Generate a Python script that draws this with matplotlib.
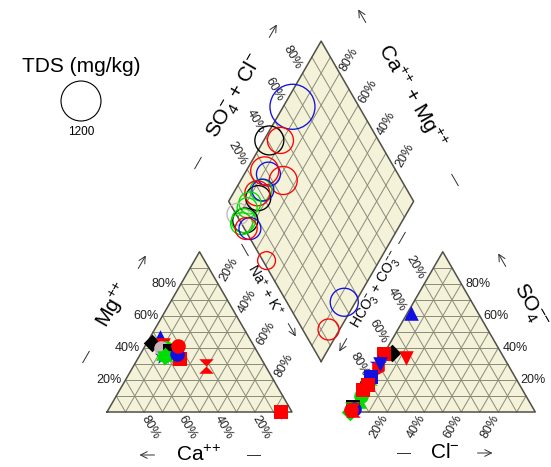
import numpy as np
import matplotlib
matplotlib.use("Agg")
import matplotlib.pyplot as plt
from matplotlib.path import Path

plt.rcParams["font.family"] = ["Liberation Sans", "DejaVu Sans"]
plt.rcParams["mathtext.fontset"] = "custom"
plt.rcParams["mathtext.rm"] = "Liberation Sans"
plt.rcParams["mathtext.it"] = "Liberation Sans:italic"
plt.rcParams["mathtext.default"] = "regular"

# ---- water samples: major ions in % meq/L, TDS in mg/kg ----
colors = ["#1010E0", "black", "red", "red", "#1010E0", "red",
          "#00DD00", "black", "#1010E0", "red", "#00DD00", "#00DD00",
          "#C8B4BE", "black", "#00DD00", "#00DD00", "#1010E0", "red",
          "#1010E0", "red", "red"]
markers = ["^", "D", "v", "s", "*", "h",
           "hourglass", "o", "s", "s", "o", "^",
           "o", "s", "v", "D", "o", "hourglass",
           "v", "s", "o"]
ca = [48, 54, 49, 44, 52, 50, 50, 46, 47, 50, 48, 51, 51, 47, 52, 51, 44, 32, 6, 6, 41]
mg = [47, 43, 42, 33, 35, 40, 36, 39, 38, 37, 40, 37, 40, 38, 34, 35, 36, 29, 0, 0, 41]
na_k = [5, 3, 9, 23, 13, 10, 14, 15, 15, 13, 12, 12, 9, 15, 14, 14, 20, 39, 94, 94, 18]
hco3 = [36, 59, 53, 64, 70, 71, 79, 83, 78, 82, 89, 92, 99, 97, 98, 100, 97, 98, 69, 86, 99]
so4 = [62, 37, 34, 36, 30, 28, 21, 17, 22, 17, 10, 7, 1, 3, 2, 0, 2, 1, 30, 14, 1]
cl = [2, 4, 13, 0, 0, 1, 0, 0, 0, 1, 1, 1, 0, 0, 0, 0, 1, 1, 1, 0, 0]
tds = [1520, 630, 510, 590, 430, 590, 360, 470, 360, 470, 360, 300,
       360, 470, 430, 360, 360, 240, 590, 330, 360]
legend_tds = 1200

# ---- layout of the Piper diagram (unit = triangle side) ----
H = np.sqrt(3) / 2
GAP = 0.315
PX = 185.0  # pixels per unit
X0, Y0 = 107.0, 412.0  # pixel position of the origin

FILL = "#F4F2D9"
GRID = "#8A8A7A"
EDGE = "#505048"

hourglass = Path([(-1, 1), (1, 1), (0, 0), (1, -1), (-1, -1), (0, 0), (-1, 1)],
                 [Path.MOVETO, Path.LINETO, Path.LINETO, Path.LINETO,
                  Path.LINETO, Path.LINETO, Path.CLOSEPOLY])


def pix(px, py):
    return (px - X0) / PX, (Y0 - py) / PX


def shift(pt, dx, dy):
    return pt[0] + dx / PX, pt[1] - dy / PX


def cation_xy(m, n):
    m, n = np.asarray(m) / 100, np.asarray(n) / 100
    return n + m / 2, m * H


def anion_xy(s, c):
    s, c = np.asarray(s) / 100, np.asarray(c) / 100
    return 1 + GAP + c + s / 2, s * H


def diamond_xy(n, h):
    a = np.asarray(n) / 100
    b = 2 + GAP - np.asarray(h) / 100
    return (a + b) / 2, (b - a) * H


fig = plt.figure(figsize=(5.51, 4.67), dpi=100)
ax = fig.add_axes([0, 0, 1, 1])
ax.set_xlim(-X0 / PX, (551 - X0) / PX)
ax.set_ylim((Y0 - 467) / PX, Y0 / PX)
ax.axis("off")

# ---- frames and grids ----
def triangle(x0):
    A = np.array([x0, 0.0]); B = np.array([x0 + 1, 0.0]); C = np.array([x0 + 0.5, H])
    ax.fill(*zip(A, B, C), color=FILL, zorder=1, lw=0)
    for k in range(1, 10):
        f = k / 10
        for P, Q, R in ((A, B, C), (B, C, A), (C, A, B)):
            p1 = P + f * (R - P)
            p2 = Q + f * (R - Q)
            ax.plot([p1[0], p2[0]], [p1[1], p2[1]], color=GRID, lw=0.7, zorder=2)
    ax.plot(*zip(A, B, C, A), color=EDGE, lw=1.1, zorder=3)


triangle(0.0)
triangle(1 + GAP)

DB = np.array([1 + GAP / 2, GAP * H])
DL = DB + np.array([-0.5, H])
DR = DB + np.array([0.5, H])
DT = DB + np.array([0.0, 2 * H])
ax.fill(*zip(DB, DR, DT, DL), color=FILL, zorder=1, lw=0)
for k in range(1, 10):
    f = k / 10
    p1 = DB + f * (DL - DB); p2 = DR + f * (DT - DR)
    ax.plot([p1[0], p2[0]], [p1[1], p2[1]], color=GRID, lw=0.7, zorder=2)
    p1 = DB + f * (DR - DB); p2 = DL + f * (DT - DL)
    ax.plot([p1[0], p2[0]], [p1[1], p2[1]], color=GRID, lw=0.7, zorder=2)
ax.plot(*zip(DB, DR, DT, DL, DB), color=EDGE, lw=1.1, zorder=3)

# ---- tick labels ----
TK = dict(fontsize=9, color="#202020", zorder=6)
for f in (0.2, 0.4, 0.6, 0.8):
    lab = f"{int(f * 100)}%"
    # cation triangle
    ax.text(*shift((f / 2, f * H), -4, 0), lab, ha="right", va="center", **TK)
    ax.text(*shift((1 - f, 0), 6, 15), lab, ha="center", va="center",
            rotation=-60, rotation_mode="anchor", **TK)
    ax.text(*shift((f + (1 - f) / 2, (1 - f) * H), 11, -14), lab, ha="center",
            va="center", rotation=60, rotation_mode="anchor", **TK)
    # anion triangle
    ax.text(*shift((1 + GAP + f, 0), -8, 15), lab, ha="center", va="center",
            rotation=60, rotation_mode="anchor", **TK)
    ax.text(*shift((2 + GAP - f / 2, f * H), 4, 0), lab, ha="left", va="center", **TK)
    ax.text(*shift((1 + GAP + (1 - f) / 2, (1 - f) * H), -9, -16), lab, ha="center",
            va="center", rotation=-60, rotation_mode="anchor", **TK)
    # diamond
    p = DL + f * (DT - DL)
    ax.text(*shift(p, -10, -16), lab, ha="center", va="center",
            rotation=-60, rotation_mode="anchor", **TK)
    p = DR + f * (DT - DR)
    ax.text(*shift(p, 10, -14), lab, ha="center", va="center",
            rotation=60, rotation_mode="anchor", **TK)

# ---- axis titles ----
BIG = dict(fontsize=15, color="black", ha="center", va="center",
           rotation_mode="anchor", zorder=6)
ax.text(*pix(236, 97), r"SO$_4^{-}$ + Cl$^{-}$", rotation=60, **BIG)
ax.text(*pix(411, 96), r"Ca$^{{+}{+}}$ + Mg$^{{+}{+}}$", rotation=-60, **BIG)
ax.text(*pix(113, 305), r"Mg$^{{+}{+}}$", rotation=60, **BIG)
ax.text(*pix(199, 455), r"Ca$^{{+}{+}}$", rotation=0, **BIG)
ax.text(*pix(445, 452), r"Cl$^{-}$", rotation=0, **BIG)
ax.text(*pix(529, 306), r"SO$_4^{{-}{-}}$", rotation=-60, **BIG)
MID = dict(fontsize=10, color="black", ha="center", va="center",
           rotation_mode="anchor", zorder=6)
ax.text(*pix(266, 290), r"Na$^{+}$ + K$^{+}$", rotation=-60, **MID)
ax.text(*pix(377, 290), r"HCO$_3^{-}$ + CO$_3^{{-}{-}}$", rotation=60, **MID)


# ---- direction arrows and dashes ----
def arrow(px, py, ang, length=15):
    d = np.array([np.cos(np.radians(ang)), np.sin(np.radians(ang))]) * length / 2 / PX
    c = np.array(pix(px, py))
    ax.annotate("", xy=c + d, xytext=c - d,
                arrowprops=dict(arrowstyle="->", lw=0.7, color="#303030",
                                mutation_scale=12, shrinkA=0, shrinkB=0), zorder=6)


def dash(px, py, ang, length=13):
    d = np.array([np.cos(np.radians(ang)), np.sin(np.radians(ang))]) * length / 2 / PX
    c = np.array(pix(px, py))
    ax.plot([c[0] - d[0], c[0] + d[0]], [c[1] - d[1], c[1] + d[1]],
            color="#303030", lw=0.7, zorder=6)


arrow(273, 31, 60); dash(198, 163, 60)
arrow(362, 16, 120); dash(455, 180, 120)
arrow(292, 330, -60); dash(245, 250, -60)
arrow(343, 345, -120); dash(402, 238, -120)
arrow(142, 262, 60); dash(86, 357, 60)
arrow(147, 455, 180); dash(253, 455, 0)
arrow(485, 453, 0); dash(403, 453, 0)
arrow(502, 260, 120)

# ---- samples ----
cx, cy = cation_xy(mg, na_k)
axx, axy = anion_xy(so4, cl)
dx, dy = diamond_xy(na_k, hco3)
size_k = 829.0 / legend_tds
for i in range(len(tds)):
    mk = hourglass if markers[i] == "hourglass" else markers[i]
    ms = {"*": 170, "D": 80, "s": 95, "o": 110}.get(markers[i], 110)
    ax.scatter(cx[i], cy[i], s=ms, marker=mk, color=colors[i], lw=0, zorder=10 + i)
    ax.scatter(axx[i], axy[i], s=ms, marker=mk, color=colors[i], lw=0, zorder=10 + i)
    ax.scatter(dx[i], dy[i], s=tds[i] * size_k, marker="o", facecolor="none",
               edgecolor=colors[i], lw=0.95, zorder=10 + i)

# ---- TDS legend ----
ax.text(*pix(81, 67), "TDS (mg/kg)", fontsize=15, ha="center", va="center")
ax.scatter(*pix(81, 101), s=legend_tds * size_k, marker="o", facecolor="none",
           edgecolor="black", lw=0.8)
ax.text(*pix(81, 132), str(legend_tds), fontsize=8.5, ha="center", va="center")

fig.savefig("out.png", dpi=100)
